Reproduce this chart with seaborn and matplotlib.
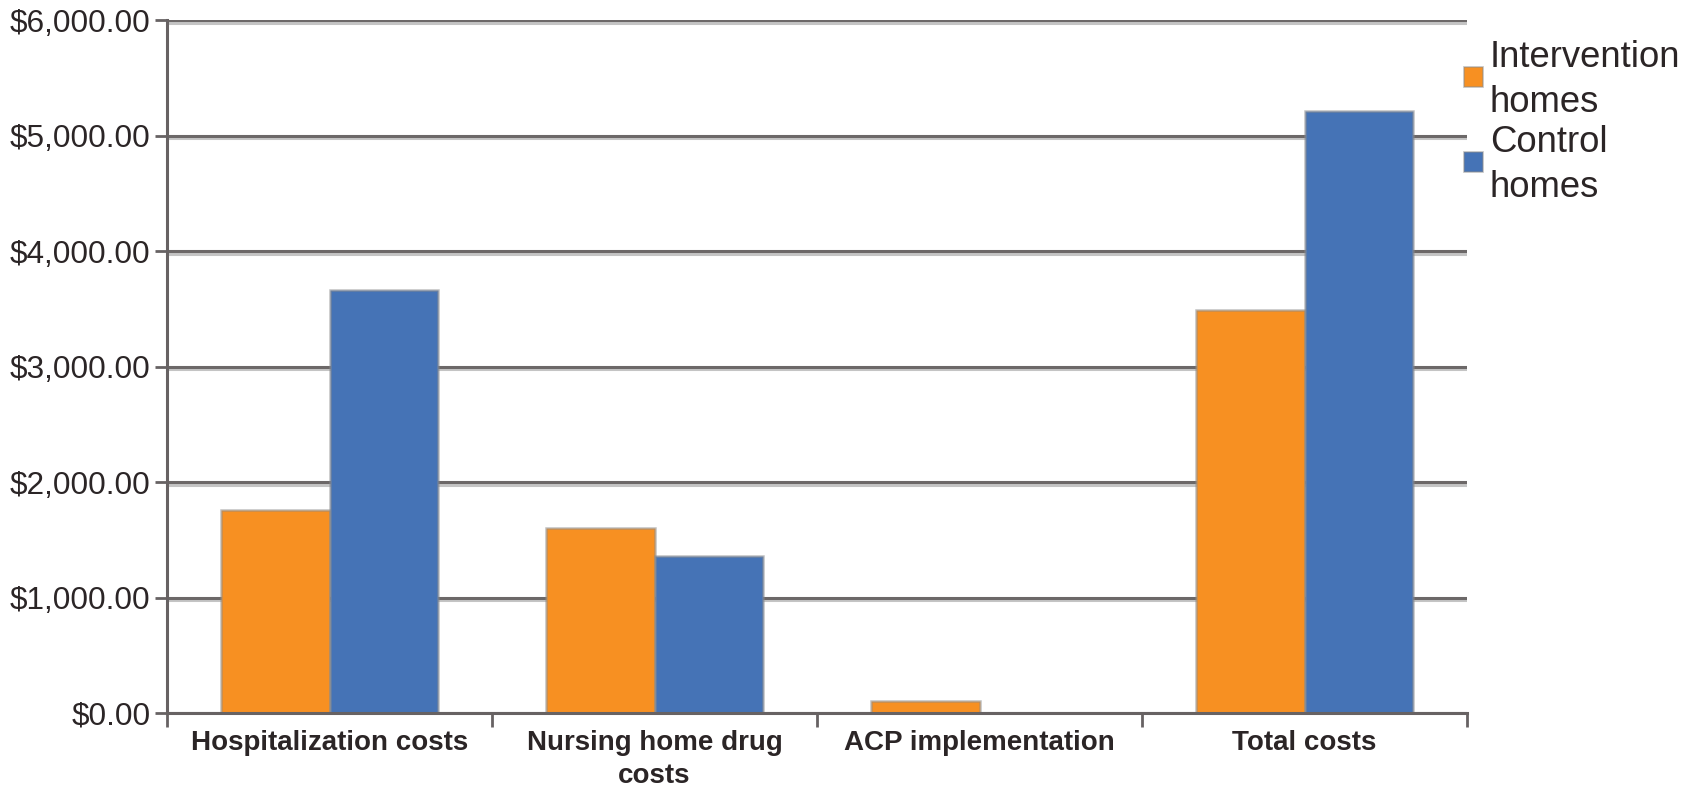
import matplotlib
matplotlib.use("Agg")
import matplotlib.pyplot as plt
import matplotlib.patheffects as pe
from matplotlib.patches import Rectangle
from matplotlib.ticker import FuncFormatter, MultipleLocator, FixedLocator
import seaborn as sns
import pandas as pd

# Cost categories and per-resident costs for each group
categories = ["Hospitalization costs", "Nursing home drug\ncosts",
              "ACP implementation", "Total costs"]
intervention_costs = [1760, 1600, 105, 3485]
control_costs = [3660, 1360, 0, 5215]
groups = ["Intervention\nhomes", "Control\nhomes"]
y_ticks = [0, 1000, 2000, 3000, 4000, 5000, 6000]

ORANGE = "#F79022"
BLUE = "#4573B6"
GRID = "#676263"
TEXT = "#2b2526"
EDGE = (0.55, 0.55, 0.55, 0.55)
W, H = 1695, 787

df = pd.DataFrame({
    "category": categories * 2,
    "cost": intervention_costs + control_costs,
    "group": [groups[0]] * len(categories) + [groups[1]] * len(categories),
})

sns.set_theme(style="white")
plt.rcParams["font.family"] = ["Liberation Sans", "DejaVu Sans"]

fig = plt.figure(figsize=(W / 100, H / 100), dpi=100)
ax = fig.add_axes([167 / W, 1 - 713 / H, (1467 - 167) / W, (713 - 20) / H])

sns.barplot(data=df, x="category", y="cost", hue="group", order=categories,
            hue_order=groups, palette=[ORANGE, BLUE], saturation=1,
            width=0.666, gap=0, edgecolor=EDGE, linewidth=1.8,
            legend=False, ax=ax, zorder=3)

ax.set_xlim(-0.5, len(categories) - 0.5)
ax.set_ylim(0, 6000)
ax.set_xlabel("")
ax.set_ylabel("")

# y axis: currency ticks with horizontal gridlines
ax.yaxis.set_major_locator(FixedLocator(y_ticks))
ax.yaxis.set_major_formatter(FuncFormatter(lambda v, _: f"${v:,.2f}"))
ax.tick_params(axis="y", which="major", direction="out", length=9, width=2,
               color=GRID, labelsize=22.7, labelcolor=TEXT, pad=3, left=True)
ax.yaxis.grid(True, color="#6c6868", linewidth=2.2, zorder=1)
ax.set_axisbelow(True)
for gl in ax.get_ygridlines():
    gl.set_path_effects([pe.SimpleLineShadow(offset=(0, -2), shadow_color="#c4c4c4",
                                             alpha=1.0), pe.Normal()])

# x axis: labels under each group, tick marks between groups
ax.tick_params(axis="x", which="major", length=0, labelsize=20, labelcolor=TEXT, pad=12)
for lbl in ax.get_xticklabels():
    lbl.set_fontweight("bold")
    lbl.set_linespacing(1.35)
ax.xaxis.set_minor_locator(MultipleLocator(1.0, offset=0.5))
ax.tick_params(axis="x", which="minor", direction="out", length=10, width=2,
               color=GRID, bottom=True)

for side in ["top", "right"]:
    ax.spines[side].set_visible(False)
for side in ["left", "bottom"]:
    ax.spines[side].set_color(GRID)
    ax.spines[side].set_linewidth(2.2)
    ax.spines[side].set_zorder(4)

# legend: square swatch beside a two-line label for each group
legend_tops = [40, 125]
for label, color, top in zip(groups, [ORANGE, BLUE], legend_tops):
    fig.add_artist(Rectangle((1464 / W, 1 - (top + 47) / H), 19 / W, 20 / H,
                             transform=fig.transFigure, facecolor=color,
                             edgecolor=EDGE, linewidth=1.2))
    fig.text(1490 / W, 1 - top / H, label, ha="left", va="top",
             fontsize=26.3, color=TEXT, linespacing=1.38)

fig.savefig("out.png", dpi=100, facecolor="white")
